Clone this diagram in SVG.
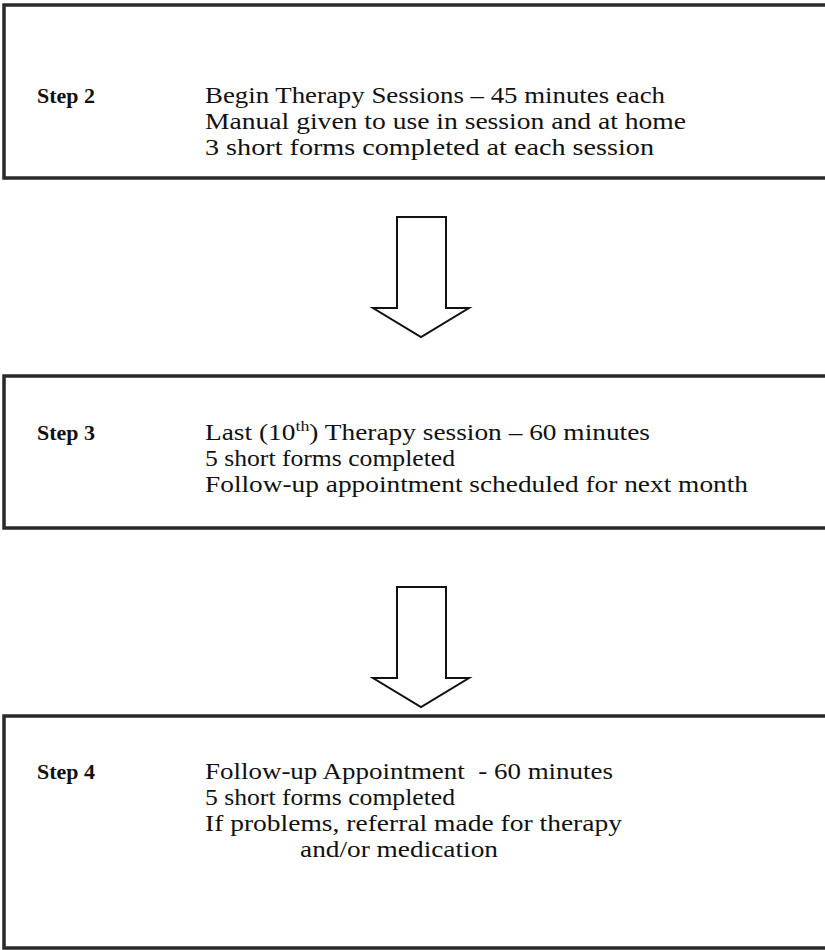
<svg xmlns="http://www.w3.org/2000/svg" width="825" height="950" viewBox="0 0 825 950">
<style>
.box{fill:#fff;stroke:#2a2a2a;stroke-width:3.5}
.arrow{fill:#fff;stroke:#111;stroke-width:2;stroke-linejoin:miter}
text{font-family:"Liberation Serif","Times New Roman",serif;font-size:23px;fill:#111}
.step{font-weight:bold;font-size:22px}
</style>
<rect width="825" height="950" fill="#fff"/>
<g id="step2">
<rect class="box" x="4" y="5" width="830" height="173"/>
<text class="step" x="37" y="103">Step 2</text>
<text x="205" y="103" textLength="460" lengthAdjust="spacingAndGlyphs">Begin Therapy Sessions – 45 minutes each</text>
<text x="205" y="129" textLength="481" lengthAdjust="spacingAndGlyphs">Manual given to use in session and at home</text>
<text x="205" y="155" textLength="449" lengthAdjust="spacingAndGlyphs">3 short forms completed at each session</text>
</g>
<g id="step3">
<rect class="box" x="4" y="376" width="830" height="152"/>
<text class="step" x="37" y="440">Step 3</text>
<text x="205" y="440" textLength="445" lengthAdjust="spacingAndGlyphs">Last (10<tspan font-size="15" dy="-9">th</tspan><tspan dy="9">) Therapy session – 60 minutes</tspan></text>
<text x="205" y="466" textLength="250" lengthAdjust="spacingAndGlyphs">5 short forms completed</text>
<text x="205" y="492" textLength="543" lengthAdjust="spacingAndGlyphs">Follow-up appointment scheduled for next month</text>
</g>
<g id="step4">
<rect class="box" x="4" y="716" width="830" height="232"/>
<text class="step" x="37" y="779">Step 4</text>
<text x="205" y="779" xml:space="preserve" textLength="408" lengthAdjust="spacingAndGlyphs">Follow-up Appointment  - 60 minutes</text>
<text x="205" y="805" textLength="250" lengthAdjust="spacingAndGlyphs">5 short forms completed</text>
<text x="205" y="831" textLength="417" lengthAdjust="spacingAndGlyphs">If problems, referral made for therapy</text>
<text x="300" y="857" textLength="198" lengthAdjust="spacingAndGlyphs">and/or medication</text>
</g>
<g id="connectors">
<polygon class="arrow" points="397,217 446,217 446,308 469,308 421,337 373,308 397,308"/>
<polygon class="arrow" points="397,587 446,587 446,678 469,678 421,707 373,678 397,678"/>
</g>
</svg>
